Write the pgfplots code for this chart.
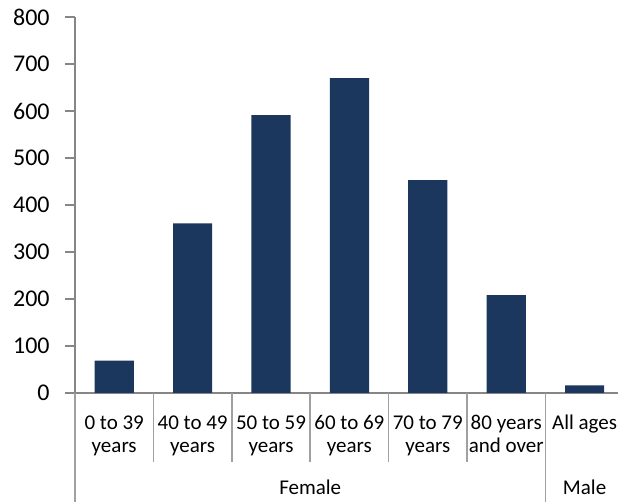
\documentclass[border=0pt]{standalone}
\usepackage{fontspec}
\setmainfont{Carlito}
\usepackage{pgfplots}
\pgfplotsset{compat=1.18}

\definecolor{barnavy}{RGB}{28,55,94}
\definecolor{axisgray}{RGB}{134,134,134}
\definecolor{sepgray}{RGB}{160,160,160}

\begin{document}
\begin{tikzpicture}
\begin{axis}[
  scale only axis,
  width=271.5pt, height=188pt,
  xmin=-0.5, xmax=6.426,
  ymin=0, ymax=800,
  clip=false,
  axis lines=left,
  axis line style={-, draw=axisgray, line width=0.8pt},
  ytick={0,100,...,800},
  ytick style={draw=axisgray, line width=0.8pt},
  tick align=outside,
  major tick length=5pt,
  yticklabel style={font=\fontsize{12}{14}\selectfont, inner sep=0pt, xshift=-7.5pt},
  /pgf/number format/assume math mode=true,
  xtick={0,1,2,3,4,5,6},
  xtick style={draw=none},
  xticklabels={{0 to 39\\years},{40 to 49\\years},{50 to 59\\years},{60 to 69\\years},{70 to 79\\years},{80 years\\and over},{All ages}},
  xticklabel style={font=\fontsize{10.5}{11.5}\selectfont, align=center, anchor=north, inner sep=0pt, yshift=-6pt},
]
\addplot[ybar, bar width=19.6pt, fill=barnavy, draw=none]
  coordinates {(0,69) (1,361) (2,591) (3,670) (4,453) (5,208) (6,16)};

% category separators below the x axis
\pgfplotsinvokeforeach{0.5,1.5,2.5,3.5,4.5}{
  \draw[sepgray, line width=0.8pt] (axis cs:#1,0) -- (axis cs:#1,-147);
}
\draw[sepgray, line width=0.8pt] (axis cs:-0.5,0) -- (axis cs:-0.5,-232);
\draw[sepgray, line width=0.8pt] (axis cs:5.5,0) -- (axis cs:5.5,-232);

% group labels
\node[anchor=base, font=\fontsize{10.5}{11.5}\selectfont] at (axis cs:2.5,-217) {Female};
\node[anchor=base, font=\fontsize{10.5}{11.5}\selectfont] at (axis cs:6,-217) {Male};

\coordinate (BL) at (axis cs:-1.4566,-231.9);
\coordinate (TR) at (axis cs:6.426,836.2);
\end{axis}
\pgfresetboundingbox
\path[use as bounding box] (BL) rectangle (TR);
\end{tikzpicture}
\end{document}
